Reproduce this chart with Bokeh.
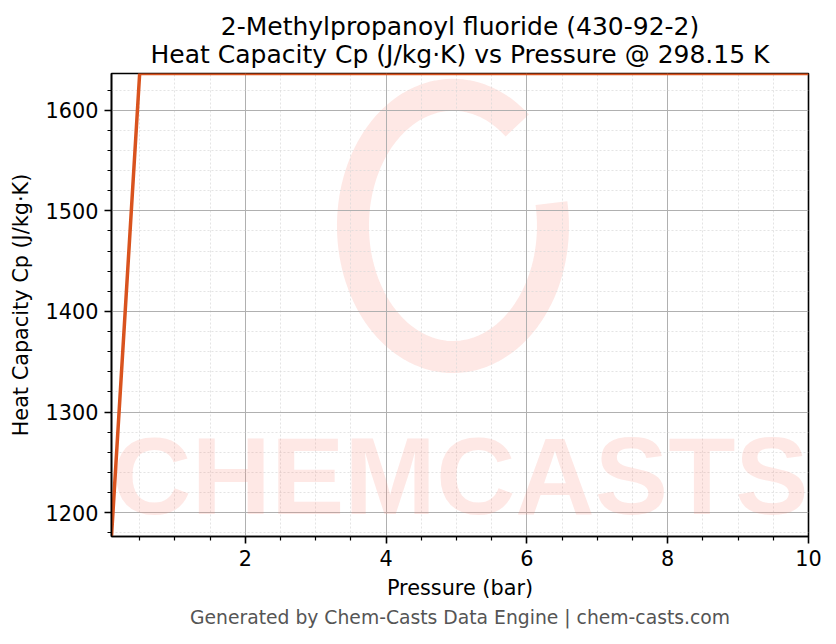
import numpy as np
from bokeh.plotting import figure
from bokeh.models import FixedTicker, Label, Title, Range1d
from bokeh.embed import file_html
from bokeh.resources import INLINE

# data
pressure_bar = [0.1, 0.5, 1.0, 2.0, 3.0, 4.0, 5.0, 6.0, 7.0, 8.0, 9.0, 10.0]
cp_jkgk = [1176.3, 1636.5, 1636.5, 1636.5, 1636.5, 1636.5, 1636.5, 1636.5, 1636.5, 1636.5, 1636.5, 1636.5]

x_major = [2, 4, 6, 8, 10]
x_minor = [0.5, 1.0, 1.5, 2.5, 3.0, 3.5, 4.5, 5.0, 5.5, 6.5, 7.0, 7.5, 8.5, 9.0, 9.5]
y_major = [1200, 1300, 1400, 1500, 1600]
y_minor = [1180, 1220, 1240, 1260, 1280, 1320, 1340, 1360, 1380, 1420, 1440,
           1460, 1480, 1520, 1540, 1560, 1580, 1620]

title_line1 = "2-Methylpropanoyl fluoride (430-92-2)"
title_line2 = "Heat Capacity Cp (J/kg·K) vs Pressure @ 298.15 K"
footer_text = "Generated by Chem-Casts Data Engine | chem-casts.com"

FONT = "DejaVu Sans"
LINE_COLOR = "#d9531e"
WM_COLOR = "#fa8c7c"

p = figure(
    width=836,
    height=644,
    title=None,
    output_backend="svg",
    toolbar_location=None,
    x_range=Range1d(0.1, 10),
    y_range=Range1d(1176.3, 1636.5),
    x_axis_label="Pressure (bar)",
    y_axis_label="Heat Capacity Cp (J/kg·K)",
    min_border_left=111,
    min_border_right=28,
    min_border_top=73,
    min_border_bottom=108,
)

# two centred title lines (the later one sits further from the plot)
p.add_layout(Title(text=title_line2, align="center", text_font=FONT, text_font_size="25px",
                   text_font_style="normal", text_color="#000000", standoff=10), "above")
p.add_layout(Title(text=title_line1, align="center", text_font=FONT, text_font_size="25px",
                   text_font_style="normal", text_color="#000000", standoff=-17), "above")

p.add_layout(Title(text=footer_text, align="center", text_font=FONT, text_font_size="18.75px",
                   text_font_style="normal", text_color="#555555", standoff=5), "below")

# watermark: brush ring + word, drawn faintly behind the data
t = np.linspace(np.radians(50), np.radians(370), 120)
ring_x = 4.95 + 100 * np.cos(t) / 70.4
ring_y = 1485 + 131 * np.sin(t) / 1.005
p.line(ring_x, ring_y, line_color=WM_COLOR, line_alpha=0.2, line_width=32, level="underlay")
p.add_layout(Label(x=5.055, y=1237, text="CHEMCASTS", text_align="center", text_baseline="middle",
                   text_font="Liberation Sans", text_font_style="bold", text_font_size="110px",
                   text_color=WM_COLOR, text_alpha=0.2, level="underlay"))

# data line
p.line(pressure_bar, cp_jkgk, line_color=LINE_COLOR, line_width=3.5)

# axes
for ax in (p.xaxis[0], p.yaxis[0]):
    ax.axis_line_color = "#000000"
    ax.axis_line_width = 1.6
    ax.major_tick_line_color = "#000000"
    ax.minor_tick_line_color = "#000000"
    ax.major_tick_line_width = 1.6
    ax.minor_tick_line_width = 1.2
    ax.major_tick_in = 0
    ax.major_tick_out = 7
    ax.minor_tick_in = 0
    ax.minor_tick_out = 4
    ax.major_label_text_font = FONT
    ax.major_label_text_font_size = "20.8px"
    ax.major_label_text_color = "#000000"
    ax.major_label_standoff = 6
    ax.axis_label_text_font = FONT
    ax.axis_label_text_font_size = "20.8px"
    ax.axis_label_text_font_style = "normal"
    ax.axis_label_text_color = "#000000"
    ax.axis_label_standoff = 7
p.yaxis[0].axis_label_standoff = 10

p.xaxis[0].ticker = FixedTicker(ticks=x_major, minor_ticks=x_minor)
p.yaxis[0].ticker = FixedTicker(ticks=y_major, minor_ticks=y_minor)

# grids
p.xgrid.ticker = p.xaxis[0].ticker
p.ygrid.ticker = p.yaxis[0].ticker
for g in (p.xgrid[0], p.ygrid[0]):
    g.grid_line_color = "#b0b0b0"
    g.grid_line_width = 1
    g.minor_grid_line_color = "#d8d8d8"
    g.minor_grid_line_width = 0.7
    g.minor_grid_line_dash = "2 2"

p.outline_line_color = "#000000"
p.outline_line_width = 1.6
p.background_fill_color = "#ffffff"
p.border_fill_color = "#ffffff"

open("out.html", "w").write(file_html(p, INLINE))
